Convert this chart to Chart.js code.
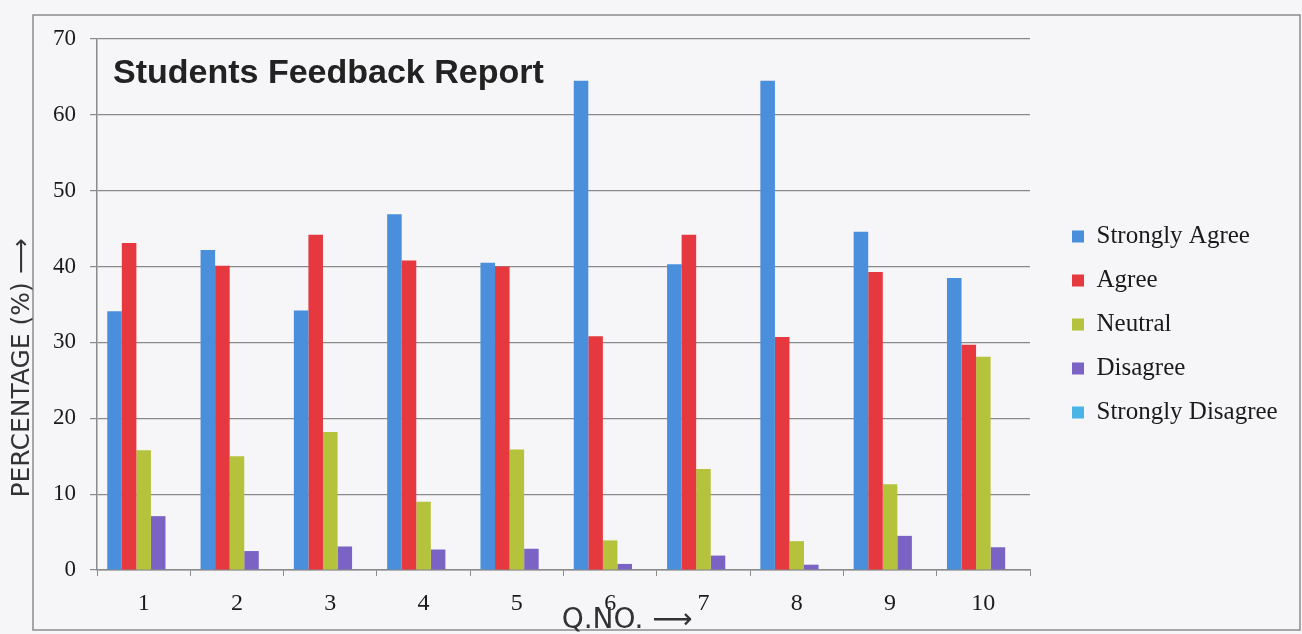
<!DOCTYPE html>
<html>
<head>
<meta charset="utf-8">
<script src="https://cdn.jsdelivr.net/npm/chart.js@4"></script>
<style>
  html, body { margin: 0; padding: 0; background: #f6f5f7; }
  #wrap { width: 1302px; height: 634px; }
</style>
</head>
<body>
<div id="wrap"><canvas id="feedbackChart" width="1302" height="634"></canvas></div>
<script>
// question numbers and the answer shares (%)
const questions = ['1', '2', '3', '4', '5', '6', '7', '8', '9', '10'];
const stronglyAgree = [34.1, 42.2, 34.2, 46.9, 40.5, 64.5, 40.3, 64.5, 44.6, 38.5];
const agree = [43.1, 40.1, 44.2, 40.8, 40.0, 30.8, 44.2, 30.7, 39.3, 29.7];
const neutral = [15.8, 15.0, 18.2, 9.0, 15.9, 3.9, 13.3, 3.8, 11.3, 28.1];
const disagree = [7.1, 2.5, 3.1, 2.7, 2.8, 0.8, 1.9, 0.7, 4.5, 3.0];
const stronglyDisagree = [0, 0, 0, 0, 0, 0, 0, 0, 0, 0];
const seriesNames = ['Strongly Agree', 'Agree', 'Neutral', 'Disagree', 'Strongly Disagree'];
const yTicks = [0, 10, 20, 30, 40, 50, 60, 70];

const colors = ['#4a8fdc', '#e5383f', '#b5c23c', '#7b63c6', '#4bb4e6'];
const seriesData = [stronglyAgree, agree, neutral, disagree, stronglyDisagree];

// frame, title inside the plot and the hand written axis labels
const decorations = {
    id: 'decorations',
    beforeInit(chart) {
        const fit = chart.legend.fit;
        chart.legend.fit = function () {
            fit.call(this);
            this.width = 272;
        };
    },
    afterLayout(chart) {
        const lg = chart.legend;
        lg.left += 23;
        lg.right += 23;
        lg.top -= 12;
        lg.bottom -= 12;
    },
    beforeDraw(chart) {
        const ctx = chart.ctx;
        ctx.save();
        ctx.strokeStyle = '#8c8c8c';
        ctx.lineWidth = 1.5;
        ctx.strokeRect(33, 15, 1267, 615);
        ctx.restore();
    },
    afterDraw(chart) {
        const ctx = chart.ctx;
        const area = chart.chartArea;
        ctx.save();
        ctx.fillStyle = '#222';
        ctx.font = 'bold 34px "Liberation Sans", Arial, sans-serif';
        ctx.textBaseline = 'alphabetic';
        ctx.fillText('Students Feedback Report', area.left + 16, 83);

        ctx.fillStyle = '#333';
        ctx.font = '25px "DejaVu Sans", sans-serif';
        ctx.translate(22, 368);
        ctx.rotate(-Math.PI / 2);
        ctx.textAlign = 'center';
        ctx.textBaseline = 'middle';
        ctx.fillText('PERCENTAGE (%) ⟶', 0, 0);
        ctx.restore();

        ctx.save();
        ctx.fillStyle = '#333';
        ctx.font = '28px "DejaVu Sans", sans-serif';
        ctx.textAlign = 'center';
        ctx.textBaseline = 'middle';
        ctx.fillText('Q.NO. ⟶', 627, 621);
        ctx.restore();
    }
};

const ctx = document.getElementById('feedbackChart').getContext('2d');
new Chart(ctx, {
    type: 'bar',
    data: {
        labels: questions,
        datasets: seriesNames.map((name, i) => ({
            label: name,
            data: seriesData[i],
            backgroundColor: colors[i],
            borderWidth: 0,
            categoryPercentage: 0.78,
            barPercentage: 1.0
        }))
    },
    options: {
        responsive: false,
        animation: false,
        layout: {
            padding: { top: 39, left: 0, right: 0, bottom: 0 }
        },
        plugins: {
            legend: {
                position: 'right',
                labels: {
                    boxWidth: 12,
                    boxHeight: 12,
                    padding: 19,
                    color: '#1a1a1a',
                    font: { family: '"Liberation Serif", "Times New Roman", serif', size: 25 }
                }
            },
            tooltip: { enabled: false }
        },
        scales: {
            x: {
                afterFit(scale) { scale.height = 64; },
                grid: {
                    drawOnChartArea: false,
                    drawTicks: true,
                    tickLength: 6,
                    color: '#8a8a8a'
                },
                border: { color: '#8a8a8a', width: 1.5 },
                ticks: {
                    color: '#1a1a1a',
                    padding: 13,
                    font: { family: '"Liberation Serif", "Times New Roman", serif', size: 24 }
                }
            },
            y: {
                min: 0,
                max: 70,
                afterFit(scale) { scale.width = 97; },
                afterBuildTicks(scale) {
                    scale.ticks = yTicks.map(v => ({ value: v }));
                },
                grid: {
                    color: '#8a8a8a',
                    lineWidth: 1.2,
                    tickLength: 7
                },
                border: { color: '#8a8a8a', width: 1.5 },
                ticks: {
                    color: '#1a1a1a',
                    padding: 14,
                    font: { family: '"Liberation Serif", "Times New Roman", serif', size: 23 }
                }
            }
        }
    },
    plugins: [decorations]
});
</script>
</body>
</html>
